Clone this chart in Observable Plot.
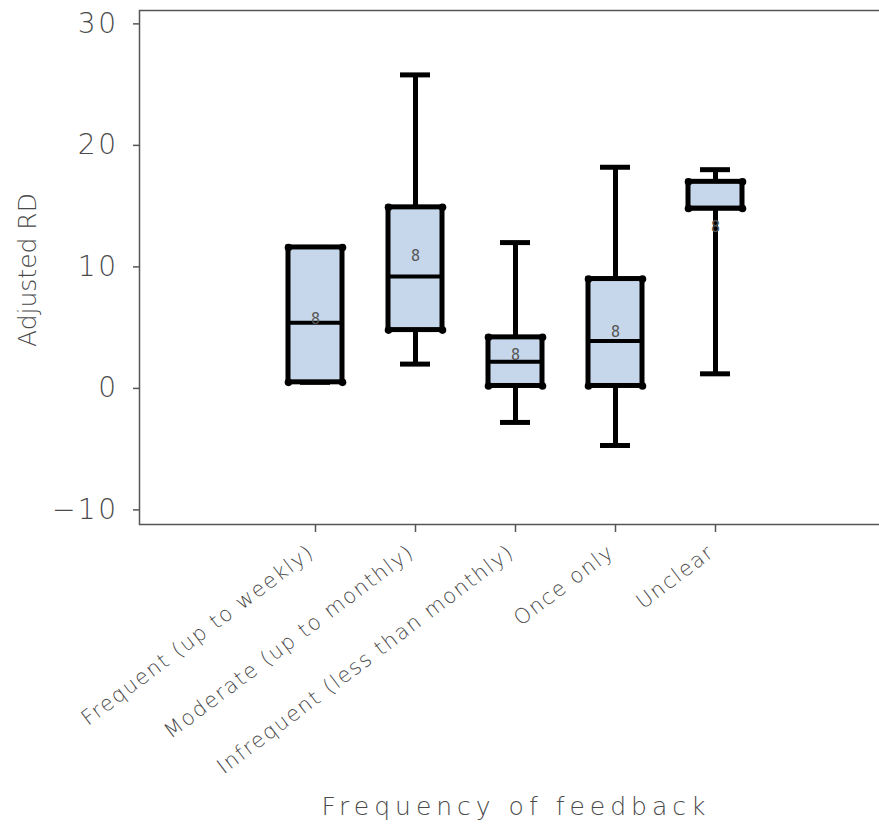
<!DOCTYPE html>
<html><head><meta charset="utf-8">
<script src="https://cdn.jsdelivr.net/npm/d3@7"></script>
<script src="https://cdn.jsdelivr.net/npm/@observablehq/plot@0.6"></script>
<style>
body{margin:0;background:#fff}
#wrap{position:relative;width:879px;height:824px;overflow:hidden}
.lab{position:absolute;white-space:nowrap;font-family:"DejaVu Sans";font-weight:200;color:#4a4a4a;line-height:1.16}
#ylab{left:27px;top:270px;transform:translate(-50%,-50%) rotate(-90deg);font-size:25px;letter-spacing:0px}
#xlab{left:516px;top:806px;transform:translate(-50%,-50%);font-size:25px;letter-spacing:5px}
#wrap svg [aria-label="x-axis tick label"] text{letter-spacing:1.5px}
#wrap svg [aria-label="y-axis tick label"] text{letter-spacing:2.5px}
</style>
</head><body><div id="wrap"></div>
<script>
const categories = ["Frequent (up to weekly)", "Moderate (up to monthly)", "Infrequent (less than monthly)", "Once only", "Unclear"];
const whiskerLow  = [0.5, 2.0, -2.8, -4.7, 1.2];
const q1          = [0.5, 4.8, 0.2, 0.2, 14.8];
const median      = [5.4, 9.2, 2.2, 3.9, 14.8];
const q3          = [11.6, 14.9, 4.2, 9.0, 17.0];
const whiskerHigh = [11.6, 25.8, 12.0, 18.2, 18.0];
const mean        = [5.7, 10.9, 2.7, 4.6, 13.3];
const yTicks = [-10, 0, 10, 20, 30];
const yDomain = [-11.2, 31.1];
const xTitle = "Frequency of feedback";
const yTitle = "Adjusted RD";

const data = categories.map((c, i) => ({cat: c, lo: whiskerLow[i], q1: q1[i], med: median[i], q3: q3[i], hi: whiskerHigh[i], mean: mean[i]}));

const font = "DejaVu Sans";
const textFill = "#4a4a4a";
const boxFill = "#c7d7eb";
const half = 27;

const chart = Plot.plot({
  width: 879, height: 824,
  marginLeft: 139, marginTop: 10, marginRight: -3, marginBottom: 300,
  style: {fontFamily: font, fontWeight: 200, background: "transparent"},
  x: {type: "band", domain: categories, paddingInner: 0.46, paddingOuter: 1.43, align: 0.517, axis: null},
  y: {domain: yDomain, axis: null},
  marks: [
    Plot.frame({stroke: "#555", strokeWidth: 1.5}),
    Plot.ruleX(data, {x: "cat", y1: "lo", y2: "q1", stroke: "#000", strokeWidth: 5}),
    Plot.ruleX(data, {x: "cat", y1: "q3", y2: "hi", stroke: "#000", strokeWidth: 5}),
    Plot.tickY(data, {x: "cat", y: "lo", stroke: "#000", strokeWidth: 5, inset: 12}),
    Plot.tickY(data, {x: "cat", y: "hi", stroke: "#000", strokeWidth: 5, inset: 12}),
    Plot.barY(data, {x: "cat", y1: "q1", y2: "q3", fill: boxFill, stroke: "#000", strokeWidth: 5}),
    Plot.tickY(data, {x: "cat", y: "med", stroke: "#000", strokeWidth: 4}),
    Plot.dot(data, {x: "cat", y: "q1", dx: -half, r: 3.8, fill: "#000"}),
    Plot.dot(data, {x: "cat", y: "q1", dx: half, r: 3.8, fill: "#000"}),
    Plot.dot(data, {x: "cat", y: "q3", dx: -half, r: 3.8, fill: "#000"}),
    Plot.dot(data, {x: "cat", y: "q3", dx: half, r: 3.8, fill: "#000"}),
    Plot.text(data, {x: "cat", y: "mean", text: () => "8", fontSize: 15, fill: "#555", fontFamily: "DejaVu Sans Mono", fontWeight: 200}),
    Plot.axisY(yTicks, {anchor: "left", tickSize: 6, tickPadding: 15, fontSize: 28, fill: textFill, stroke: "#555", strokeWidth: 1.5, label: null}),
    Plot.axisX({anchor: "bottom", tickSize: 8, tickFormat: () => "", stroke: "#555", strokeWidth: 1.5, label: null}),
    Plot.axisX({anchor: "bottom", tickSize: 0, tickPadding: 25, dx: -4, tickRotate: -37, fontSize: 21, fill: textFill, label: null})
  ]
});
const wrap = document.getElementById("wrap");
wrap.appendChild(chart);
for (const [id, t] of [["ylab", yTitle], ["xlab", xTitle]]) {
  const d = document.createElement("div");
  d.id = id; d.className = "lab"; d.textContent = t;
  wrap.appendChild(d);
}
</script>
</body></html>
